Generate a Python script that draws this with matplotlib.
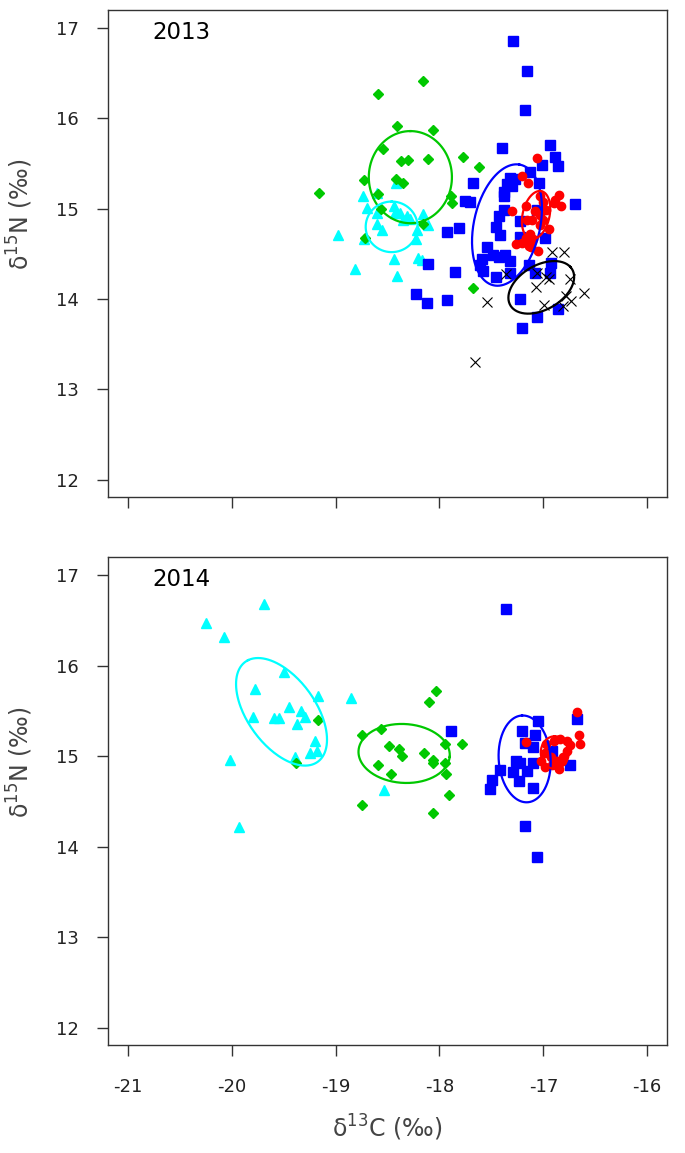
import numpy as np
import matplotlib
matplotlib.use("Agg")
import matplotlib.pyplot as plt

# ---- 2013 data (d13C, d15N) ----
green13_x = [-18.16, -18.59, -18.41, -18.06, -18.54, -18.37, -18.30, -18.11, -17.77, -17.62, -18.73,
             -18.42, -18.35, -19.16, -18.59, -17.89, -17.88, -18.56, -18.16, -18.72, -17.68]
green13_y = [16.41, 16.27, 15.92, 15.87, 15.66, 15.53, 15.54, 15.55, 15.57, 15.46, 15.32,
             15.33, 15.28, 15.18, 15.16, 15.14, 15.06, 15.00, 14.83, 14.68, 14.12]

cyan13_x = [-18.42, -18.74, -18.60, -18.70, -18.60, -18.44, -18.38, -18.31, -18.43, -18.35, -18.28, -18.16,
            -18.11, -18.60, -18.55, -18.22, -18.98, -18.73, -18.23, -18.44, -18.21, -18.17, -18.81, -18.41]
cyan13_y = [15.29, 15.14, 15.17, 15.01, 14.95, 15.03, 14.95, 14.92, 14.95, 14.88, 14.89, 14.94,
            14.82, 14.83, 14.77, 14.77, 14.71, 14.67, 14.67, 14.44, 14.46, 14.43, 14.33, 14.26]

blue13_x = [-17.29, -17.16, -17.18, -17.40, -16.94, -16.89, -16.86, -17.01, -17.13, -17.04, -17.68, -17.32,
            -17.27, -17.35, -17.30, -17.38, -17.38, -16.70, -17.75, -17.71, -17.38, -17.43, -17.22, -17.06,
            -17.46, -17.42, -17.93, -17.81, -17.54, -17.48, -17.43, -17.37, -17.22, -17.21, -16.98, -17.59,
            -17.32, -17.61, -17.58, -17.46, -17.32, -17.14, -17.08, -16.94, -16.93, -17.85, -17.93, -17.22,
            -17.06, -16.86, -17.21, -18.11, -18.23, -18.12]
blue13_y = [16.86, 16.52, 16.09, 15.67, 15.71, 15.57, 15.47, 15.49, 15.41, 15.28, 15.29, 15.34,
            15.33, 15.27, 15.25, 15.19, 15.14, 15.05, 15.09, 15.08, 14.99, 14.92, 14.86, 14.99,
            14.80, 14.71, 14.74, 14.79, 14.58, 14.49, 14.47, 14.49, 14.69, 14.66, 14.68, 14.44,
            14.42, 14.38, 14.31, 14.25, 14.29, 14.38, 14.29, 14.29, 14.40, 14.30, 13.99, 14.00,
            13.80, 13.89, 13.68, 14.39, 14.06, 13.96]

red13_x = [-17.06, -17.21, -17.15, -16.85, -16.89, -16.83, -16.90, -17.03, -17.00, -17.17, -17.30, -17.08,
           -17.03, -16.97, -17.16, -17.11, -17.00, -17.03, -16.95, -17.13, -17.17, -17.10, -17.21, -17.14,
           -17.26, -17.12, -17.05]
red13_y = [15.56, 15.36, 15.28, 15.15, 15.10, 15.03, 15.06, 15.14, 15.08, 15.03, 14.98, 14.97,
           14.93, 14.99, 14.88, 14.88, 14.88, 14.82, 14.78, 14.72, 14.68, 14.66, 14.62, 14.59,
           14.61, 14.58, 14.53]

black13_x = [-16.92, -16.80, -17.36, -17.06, -16.97, -16.95, -16.74, -17.07, -16.61, -16.78, -16.73,
             -16.81, -16.99, -17.54, -17.66]
black13_y = [14.52, 14.52, 14.28, 14.29, 14.25, 14.22, 14.22, 14.13, 14.07, 14.03, 13.98,
             13.92, 13.93, 13.97, 13.30]

# ---- 2014 data ----
cyan14_x = [-19.69, -20.25, -20.07, -19.50, -19.78, -19.17, -18.85, -19.45, -19.33, -19.29, -19.79,
            -19.59, -19.54, -19.37, -19.20, -19.25, -19.18, -19.39, -20.02, -19.93, -18.53]
cyan14_y = [16.68, 16.47, 16.32, 15.93, 15.74, 15.66, 15.64, 15.54, 15.50, 15.43, 15.43,
            15.42, 15.42, 15.36, 15.17, 15.04, 15.06, 14.99, 14.96, 14.22, 14.63]

green14_x = [-19.17, -19.38, -18.03, -18.10, -18.75, -18.56, -18.49, -18.39, -18.36, -18.15, -18.06,
             -18.06, -17.95, -17.95, -17.78, -18.59, -18.47, -17.94, -17.91, -18.75, -18.06]
green14_y = [15.40, 14.93, 15.72, 15.60, 15.23, 15.30, 15.11, 15.08, 15.00, 15.03, 14.96,
             14.92, 14.92, 15.14, 15.14, 14.90, 14.80, 14.80, 14.57, 14.46, 14.37]

blue14_x = [-17.36, -17.89, -16.68, -17.05, -17.21, -17.18, -17.08, -17.10, -17.26, -17.22, -17.10,
            -17.29, -17.16, -17.23, -17.42, -17.49, -17.51, -17.10, -16.74, -16.92, -17.18, -17.06]
blue14_y = [16.63, 15.28, 15.41, 15.39, 15.28, 15.15, 15.23, 15.10, 14.95, 14.92, 14.93,
            14.82, 14.84, 14.73, 14.85, 14.74, 14.64, 14.65, 14.90, 15.06, 14.23, 13.89]

red14_x = [-16.68, -16.66, -16.65, -17.17, -16.97, -16.90, -16.84, -16.77, -16.74, -16.77, -16.81,
           -16.87, -16.98, -17.02, -16.98, -16.92, -16.85, -16.82, -16.93]
red14_y = [15.49, 15.23, 15.13, 15.16, 15.14, 15.17, 15.19, 15.17, 15.12, 15.06, 14.99,
           14.95, 15.04, 14.95, 14.88, 14.90, 14.86, 14.95, 14.99]

# standard ellipses: centre x, centre y, semi-major, semi-minor, angle (deg)
ell13_green = (-18.28, 15.35, 0.51, 0.40, 90)
ell13_cyan = (-18.46, 14.80, 0.28, 0.25, 90)
ell13_blue = (-17.35, 14.82, 0.68, 0.32, 80)
ell13_red = (-17.07, 14.93, 0.27, 0.13, 80)
ell13_black = (-17.02, 14.13, 0.36, 0.235, 39)

ell14_cyan = (-19.52, 15.49, 0.655, 0.34, 119.5)
ell14_green = (-18.34, 15.03, 0.44, 0.325, -5)
ell14_blue = (-17.18, 14.97, 0.48, 0.25, 93)
ell14_red = (-16.89, 15.04, 0.18, 0.135, 90)

xticks = [-21, -20, -19, -18, -17, -16]
yticks = [12, 13, 14, 15, 16, 17]

GREEN = '#00c800'
CYAN = '#00ffff'
BLUE = '#0000ff'
RED = '#ff0000'


def draw_ellipse(ax, e, color):
    cx, cy, a, b, ang = e
    t = np.linspace(0, 2 * np.pi, 200)
    th = np.deg2rad(ang)
    x = cx + a * np.cos(t) * np.cos(th) - b * np.sin(t) * np.sin(th)
    y = cy + a * np.cos(t) * np.sin(th) + b * np.sin(t) * np.cos(th)
    ax.plot(x, y, color=color, lw=1.6, zorder=4)


fig = plt.figure(figsize=(6.85, 11.53), dpi=100)
ax1 = fig.add_axes([0.1577, 0.569, 0.816, 0.4223])
ax2 = fig.add_axes([0.1577, 0.0937, 0.816, 0.4232])

# 2013
ax1.plot(green13_x, green13_y, 'D', color=GREEN, ms=5, mec=GREEN, ls='none', zorder=3)
ax1.plot(cyan13_x, cyan13_y, '^', color=CYAN, ms=7.5, ls='none', zorder=2)
ax1.plot(blue13_x, blue13_y, 's', color=BLUE, ms=6.5, ls='none', zorder=2)
ax1.plot(red13_x, red13_y, 'o', color=RED, ms=6, ls='none', zorder=3)
ax1.plot(black13_x, black13_y, 'x', color='black', ms=7, mew=0.8, ls='none', zorder=3)
draw_ellipse(ax1, ell13_green, GREEN)
draw_ellipse(ax1, ell13_cyan, CYAN)
draw_ellipse(ax1, ell13_blue, BLUE)
draw_ellipse(ax1, ell13_red, RED)
draw_ellipse(ax1, ell13_black, 'black')

# 2014
ax2.plot(cyan14_x, cyan14_y, '^', color=CYAN, ms=7.5, ls='none', zorder=2)
ax2.plot(green14_x, green14_y, 'D', color=GREEN, ms=5, mec=GREEN, ls='none', zorder=3)
ax2.plot(blue14_x, blue14_y, 's', color=BLUE, ms=6.5, ls='none', zorder=2)
ax2.plot(red14_x, red14_y, 'o', color=RED, ms=6, ls='none', zorder=3)
draw_ellipse(ax2, ell14_cyan, CYAN)
draw_ellipse(ax2, ell14_green, GREEN)
draw_ellipse(ax2, ell14_blue, BLUE)
draw_ellipse(ax2, ell14_red, RED)

for ax, year in [(ax1, '2013'), (ax2, '2014')]:
    ax.set_xlim(-21.19, -15.81)
    ax.set_ylim(11.81, 17.2)
    ax.set_xticks(xticks)
    ax.set_yticks(yticks)
    ax.set_yticklabels([str(v) for v in yticks])
    ax.tick_params(direction='out', length=8, width=1, color='#333333', labelsize=13,
                   labelcolor='#222222')
    ax.tick_params(axis='x', pad=16)
    ax.tick_params(axis='y', pad=13)
    for sp in ax.spines.values():
        sp.set_linewidth(1.0)
        sp.set_color('#333333')
    ax.text(0.079, 0.953, year, transform=ax.transAxes, fontsize=16.5, va='center', ha='left')
    ax.set_ylabel('δ$^{15}$N (‰)', fontsize=17, color='#444444')
    ax.yaxis.set_label_coords(-0.13, 0.58)

ax1.set_xticklabels([])
ax2.set_xticklabels([str(v) for v in xticks])
ax2.set_xlabel('δ$^{13}$C (‰)', fontsize=17, color='#444444', labelpad=12)

fig.savefig('out.png', dpi=100)
